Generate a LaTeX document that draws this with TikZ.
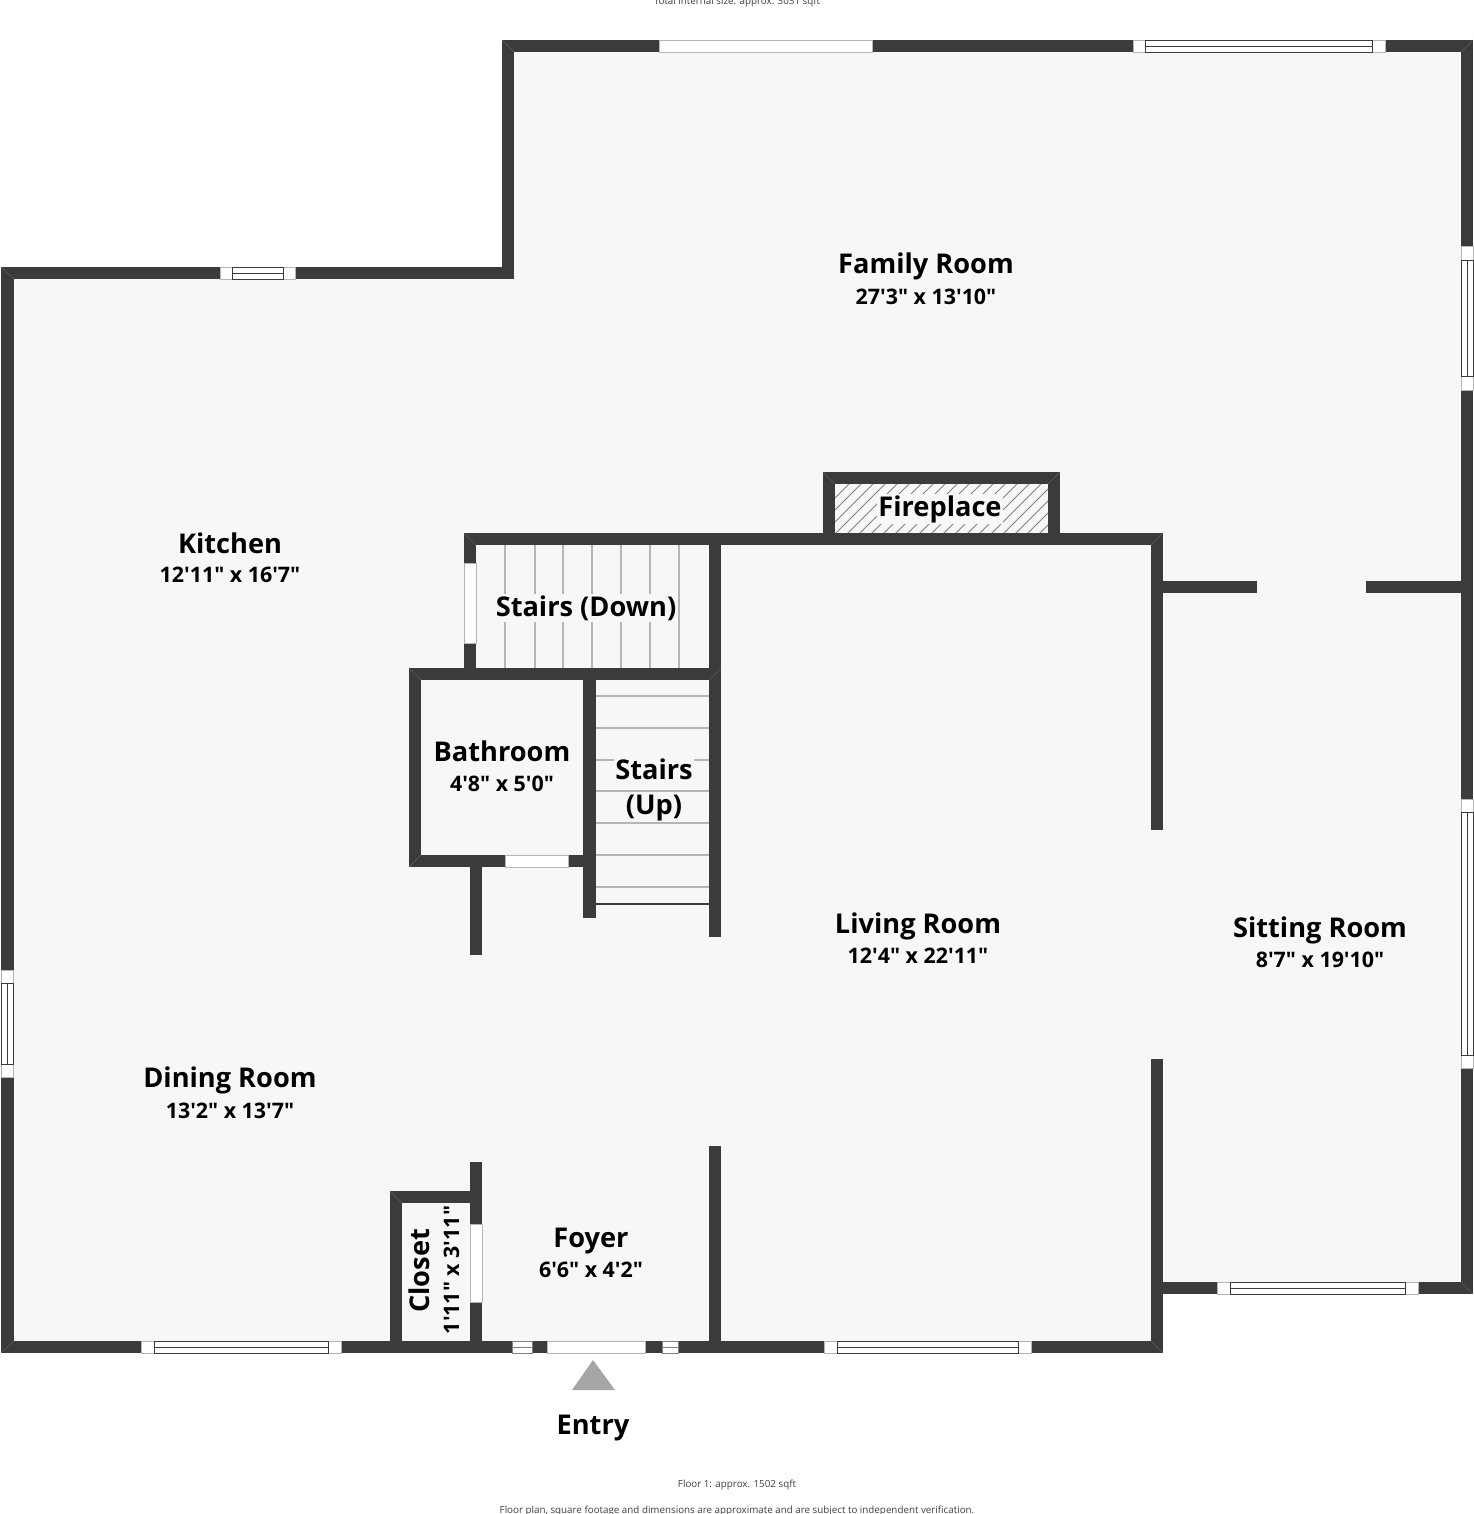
\documentclass[tikz,border=0pt]{standalone}
\usepackage{fontspec}
\newfontfamily\plansans{Open Sans}
\definecolor{wallgray}{HTML}{3B3B3B}
\definecolor{mitregray}{HTML}{5E5E5E}
\definecolor{floorgray}{HTML}{F7F7F7}
\definecolor{treadgray}{HTML}{B5B5B5}
\definecolor{entrygray}{HTML}{A6A6A6}
\tikzset{
  wall/.style={fill=wallgray},
  mitre/.style={draw=mitregray,line width=0.25pt},
  opening/.style={fill=white,draw=treadgray,line width=0.4pt},
  sash/.style={draw=wallgray,line width=0.45pt},
  smallsash/.style={draw=gray,line width=0.45pt},
  tread/.style={draw=treadgray,line width=0.6pt},
  hatching/.style={draw=gray,line width=0.5pt},
  roomname/.style={anchor=base,inner sep=0pt,font=\plansans\bfseries\fontsize{13.6}{17}\selectfont},
  roomsize/.style={anchor=base,inner sep=0pt,font=\plansans\bfseries\fontsize{10.7}{13}\selectfont},
  onlines/.style={fill=floorgray,inner sep=0.6pt},
  planNote/.style={anchor=base,inner sep=0pt,font=\plansans\fontsize{4.9}{6}\selectfont,text=black!75}
}
\begin{document}
\begin{tikzpicture}[x=0.5pt,y=-0.5pt]
  \useasboundingbox (0,0) rectangle (1473,1514);
  \fill[white] (0,0) rectangle (1473,1514);
  % floor
  \fill[floorgray] (502,40) -- (1473,40) -- (1473,1294) -- (1163,1294) -- (1163,1353)
    -- (1,1353) -- (1,267) -- (502,267) -- cycle;
  % stairs
  \foreach \ty in {696,728,760,791,823,855,887}
    \draw[tread] (596,\ty) -- (709,\ty);
  \draw[sash,line width=0.7pt] (596,904) -- (709,904);
  \foreach \tx in {505,535,563,592,621,650,679}
    \draw[tread] (\tx,545) -- (\tx,668);
  % fireplace hatching
  \begin{scope}
    \clip (835,484) rectangle (1048,533);
    \foreach \hx in {800,812,...,1050}
      \draw[hatching] (\hx,533) -- (\hx+49,484);
  \end{scope}
  % walls
  \begin{scope}
    \foreach \xa/\ya/\xb/\yb in {
      502/40/1473/52, 1461/40/1473/1294, 502/40/514/279, 1/267/514/279,
      1/267/14/1353, 1/1341/1163/1353, 1151/1059/1163/1353, 1151/1282/1473/1294,
      1151/533/1163/830, 1163/581/1257/593, 1366/581/1461/593, 464/533/1163/545,
      823/472/1060/484, 823/472/835/533, 1048/472/1060/533,
      464/533/476/680, 409/668/721/680, 709/533/721/937,
      409/668/421/867, 409/855/596/867, 583/668/596/918, 470/855/482/955,
      390/1191/402/1353, 390/1191/482/1203, 470/1162/482/1353, 709/1146/721/1353}
      \fill[wall] (\xa,\ya) rectangle (\xb,\yb);
  \end{scope}
  % corner joints
  \foreach \xa/\ya/\xb/\yb in {
    1473/40/1461/52, 502/40/514/52, 1/267/14/279, 1/1353/14/1341,
    1473/1294/1461/1282, 1163/1353/1151/1341, 464/533/476/545, 409/668/421/680,
    409/867/421/855, 823/472/835/484, 1060/472/1048/484, 390/1191/402/1203,
    1151/545/1163/533, 721/668/709/680}
    \draw[mitre] (\xa,\ya) -- (\xb,\yb);
  % plain openings
  \foreach \xa/\ya/\xb/\yb in {
    659/40/872/52, 547/1341/645/1353, 505/855/568/867,
    464/563/476/643, 470/1224/482/1302}
    \draw[opening] (\xa,\ya) rectangle (\xb,\yb);
  % windows in walls that run across
  \foreach \xa/\xi/\xj/\xb/\ya in {
    1133/1145/1372/1385/40, 220/232/283/295/267, 141/154/328/341/1341,
    824/837/1018/1031/1341, 1217/1230/1405/1418/1282}
  {
    \draw[opening] (\xa,\ya) rectangle (\xb,\ya+12);
    \draw[sash] (\xi,\ya) rectangle (\xj,\ya+12);
    \draw[sash] (\xi,\ya+6) -- (\xj,\ya+6);
  }
  % windows in walls that run up and down
  \foreach \ya/\yi/\yj/\yb/\xa in {
    246/260/376/390/1461, 799/812/1055/1068/1461, 970/983/1064/1077/1}
  {
    \draw[opening] (\xa,\ya) rectangle (\xa+12,\yb);
    \draw[sash] (\xa,\yi) rectangle (\xa+12,\yj);
    \draw[sash] (\xa+6,\yi) -- (\xa+6,\yj);
  }
  % small windows beside the entry
  \foreach \xa/\xb in {512/532,662/678}
  {
    \draw[smallsash,fill=white] (\xa,1341) rectangle (\xb,1353);
    \draw[smallsash] (\xa,1347) -- (\xb,1347);
  }
  \fill[entrygray] (593,1360) -- (615,1390) -- (572,1390) -- cycle;
  % labels
  \node[roomname] (family) at (926,273) {Family Room};
  \node[roomsize] (familysize) at (926,304) {27'3" x 13'10"};
  \node[roomname] (kitchen) at (230,553) {Kitchen};
  \node[roomsize] (kitchensize) at (230,582) {12'11" x 16'7"};
  \node[roomname,onlines] (fireplace) at (940,516) {Fireplace};
  \node[roomname,onlines] (stairsdown) at (586,616) {Stairs (Down)};
  \node[roomname] (bathroom) at (502,761) {Bathroom};
  \node[roomsize] (bathroomsize) at (502,791) {4'8" x 5'0"};
  \node[roomname,onlines] (stairsup) at (654,779) {Stairs};
  \node[roomname,onlines] (stairsupb) at (654,814) {(Up)};
  \node[roomname] (living) at (918,933) {Living Room};
  \node[roomsize] (livingsize) at (918,963) {12'4" x 22'11"};
  \node[roomname] (sitting) at (1320,937) {Sitting Room};
  \node[roomsize] (sittingsize) at (1320,967) {8'7" x 19'10"};
  \node[roomname] (dining) at (230,1087) {Dining Room};
  \node[roomsize] (diningsize) at (230,1118) {13'2" x 13'7"};
  \node[roomname] (foyer) at (591,1247) {Foyer};
  \node[roomsize] (foyersize) at (591,1277) {6'6" x 4'2"};
  \node[roomname,rotate=90] (closet) at (429,1271) {Closet};
  \node[roomsize,rotate=90] (closetsize) at (459,1270) {1'11" x 3'11"};
  \node[roomname] (entry) at (593,1434) {Entry};
  \node[planNote] (totalnote) at (737,5) {Total internal size: approx. 3031 sqft};
  \node[planNote] (floornote) at (737,1487) {Floor 1: approx. 1502 sqft};
  \node[planNote] (disclaimer) at (737,1513) {Floor plan, square footage and dimensions are approximate and are subject to independent verification.};
\end{tikzpicture}
\end{document}
